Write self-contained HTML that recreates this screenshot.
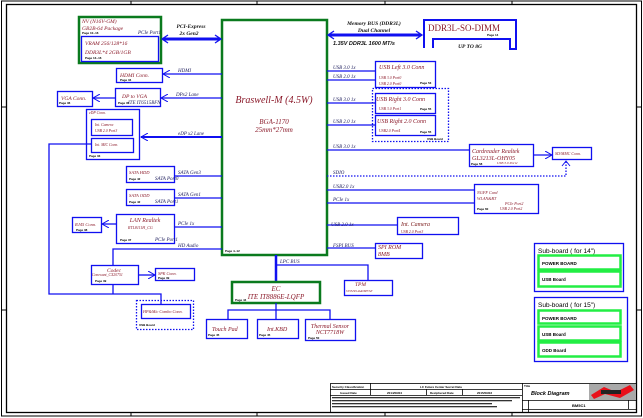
<!DOCTYPE html>
<html><head><meta charset="utf-8"><style>
html,body{margin:0;padding:0;background:#fff;width:643px;height:418px;overflow:hidden}
svg{display:block}
.b{fill:none;stroke:#1010f0;stroke-width:1.3}
.g{fill:none;stroke:#0a7a1e;stroke-width:2.5}
.lg{fill:none;stroke:#22ee44;stroke-width:2.5}
.l{stroke:#1010f0;stroke-width:1.3;fill:none}
.d{stroke:#1010f0;stroke-width:1.3;fill:none;stroke-dasharray:1.5 1.5}
.t{font-family:"Liberation Serif",serif;font-style:italic;fill:#8b1a2a}
.s{font-family:"Liberation Serif",serif;font-style:italic;fill:#1a1a5a;font-size:5px}
.p{font-family:"Liberation Sans",sans-serif;font-size:3px;fill:#000;font-weight:bold}
.k{font-family:"Liberation Sans",sans-serif;fill:#000;font-weight:bold}
</style></head><body>
<svg width="643" height="418" viewBox="0 0 643 418" xmlns="http://www.w3.org/2000/svg">
<defs>
<marker id="a" markerWidth="8" markerHeight="8" refX="7" refY="4" orient="auto" markerUnits="userSpaceOnUse"><path d="M0,0 L7,4 L0,8" fill="none" stroke="#1010f0" stroke-width="1"/></marker>
</defs>
<rect x="1.5" y="1" width="640" height="415" fill="none" stroke="#000" stroke-width="1"/>
<rect x="6.5" y="4.5" width="630" height="408" fill="none" stroke="#000" stroke-width="1.3"/>
<line x1="131" y1="1" x2="131" y2="4" stroke="#000"/><line x1="257" y1="1" x2="257" y2="4" stroke="#000"/><line x1="385" y1="1" x2="385" y2="4" stroke="#000"/><line x1="512" y1="1" x2="512" y2="4" stroke="#000"/>
<line x1="131" y1="412" x2="131" y2="416" stroke="#000"/><line x1="257" y1="412" x2="257" y2="416" stroke="#000"/><line x1="385" y1="412" x2="385" y2="416" stroke="#000"/><line x1="512" y1="412" x2="512" y2="416" stroke="#000"/>
<line x1="1" y1="107" x2="6" y2="107" stroke="#000"/><line x1="1" y1="310" x2="6" y2="310" stroke="#000"/>
<line x1="637" y1="107" x2="642" y2="107" stroke="#000"/><line x1="637" y1="310" x2="642" y2="310" stroke="#000"/>

<rect class="g" x="222" y="20" width="105" height="235"/>
<text class="t" x="274" y="103" font-size="10" text-anchor="middle">Braswell-M (4.5W)</text>
<text class="t" x="274" y="124" font-size="7" text-anchor="middle">BGA-1170</text>
<text class="t" x="274" y="132" font-size="7" text-anchor="middle">25mm*27mm</text>
<text class="p" x="225" y="252">Page 4~12</text>

<rect class="g" x="79" y="17" width="82" height="46"/>
<text class="t" x="82" y="23" font-size="5.5">NV (N16V-GM)</text>
<text class="t" x="82" y="30" font-size="5.5">GB2B-64 Package</text>
<text class="p" x="82" y="34">Page 10~16</text><text class="s" x="138" y="34" font-size="3.2">PCIe Port1</text>
<rect class="b" x="81.5" y="36.5" width="77" height="25"/>
<text class="t" x="85" y="45" font-size="5.5">VRAM 256/128*16</text>
<text class="t" x="85" y="54" font-size="5.5">DDR3L*4  2GB/1GB</text>
<text class="p" x="85" y="59">Page 13~16</text>
<text class="t" x="191" y="28" font-size="5.5" text-anchor="middle" style="fill:#111;font-weight:bold">PCI-Express</text>
<text class="t" x="189" y="35" font-size="5.5" text-anchor="middle" style="fill:#111;font-weight:bold">2x Gen2</text>
<line x1="163" y1="39" x2="220" y2="39" stroke="#1010f0" stroke-width="3"/>
<path d="M168,35 L162,39 L168,43 M215,35 L221,39 L215,43" fill="none" stroke="#1010f0" stroke-width="1.3"/>

<rect class="b" x="116.5" y="68.5" width="46" height="14"/>
<text class="t" x="120" y="77" font-size="5.5">HDMI Conn.</text><text class="p" x="120" y="81">Page 34</text>
<line class="l" x1="222" y1="74" x2="163" y2="74" marker-end="url(#a)"/>
<text class="s" x="178" y="72">HDMI</text>
<rect class="b" x="115.5" y="88.5" width="45" height="18"/>
<text class="t" x="122" y="98" font-size="5.5">DP to VGA</text><text class="p" x="118" y="104">Page 35</text><text class="s" x="128" y="104" font-size="3.2">ITE IT6515BFN</text>
<line class="l" x1="222" y1="98" x2="161" y2="98" marker-end="url(#a)"/>
<text class="s" x="176" y="96">DPx2 Lane</text>
<rect class="b" x="57.5" y="91.5" width="35" height="15"/>
<text class="t" x="61" y="100" font-size="5.5">VGA Conn.</text><text class="p" x="59" y="104">Page 36</text>
<line class="l" x1="115" y1="98" x2="93" y2="98" marker-end="url(#a)"/>
<rect class="b" x="86.5" y="109.5" width="53" height="50"/>
<text class="t" x="89" y="114" font-size="3.8">eDP Conn.</text>
<rect class="b" x="91.5" y="119.5" width="41" height="16"/>
<text class="t" x="95" y="126" font-size="3.8">Int. Camera</text><text class="t" x="95" y="132" font-size="3.8">USB 2.0 Port3</text>
<rect class="b" x="91.5" y="138.5" width="42" height="14"/>
<text class="t" x="95" y="146" font-size="3.8">Int. MIC Conn.</text>
<text class="p" x="89" y="157">Page 33</text>
<line x1="222" y1="137" x2="141" y2="137" stroke="#1010f0" stroke-width="2" marker-end="url(#a)"/>
<text class="s" x="178" y="135">eDP x2 Lane</text>
<polyline class="l" points="91,144 49,144 49,294 161,294 161,304"/>
<rect class="b" x="126.5" y="166.5" width="48" height="16"/>
<text class="t" x="129" y="174" font-size="4.5">SATA HDD</text><text class="p" x="129" y="180">Page 42</text><text class="s" x="155" y="180" font-size="3">SATA Port0</text>
<line class="l" x1="175" y1="176" x2="222" y2="176"/><text class="s" x="178" y="174">SATA Gen3</text>
<rect class="b" x="126.5" y="189.5" width="48" height="16"/>
<text class="t" x="129" y="197" font-size="4.5">SATA ODD</text><text class="p" x="129" y="203">Page 42</text><text class="s" x="155" y="203" font-size="3">SATA Port1</text>
<line class="l" x1="175" y1="198" x2="222" y2="198"/><text class="s" x="178" y="196">SATA Gen1</text>
<rect class="b" x="116.5" y="214.5" width="58" height="29"/>
<text class="t" x="145" y="222" font-size="6" text-anchor="middle">LAN Realtek</text>
<text class="t" x="128" y="229" font-size="4">RTL8111H_CG</text>
<text class="p" x="120" y="241">Page 37</text><text class="s" x="155" y="241" font-size="3">PCIe Port1</text>
<line class="l" x1="175" y1="227" x2="222" y2="227"/><text class="s" x="178" y="225">PCIe 1x</text>
<rect class="b" x="72.5" y="217.5" width="29" height="15"/>
<text class="t" x="75" y="226" font-size="4.5">RJ45 Conn.</text><text class="p" x="76" y="231">Page 38</text>
<line class="l" x1="116" y1="224" x2="102" y2="224" marker-end="url(#a)"/>
<polyline class="l" points="222,249 113,249 113,265"/>
<text class="s" x="178" y="247">HD Audio</text>
<rect class="b" x="91.5" y="265.5" width="47" height="19"/>
<text class="t" x="114" y="272" font-size="5.5" text-anchor="middle">Codec</text>
<text class="t" x="92" y="276" font-size="3.8">Conexant_CX20751</text><text class="p" x="95" y="282">Page 39</text>
<line class="l" x1="113" y1="285" x2="113" y2="294"/>
<rect class="b" x="155.5" y="268.5" width="39" height="12"/>
<text class="t" x="158" y="275" font-size="4.2">SPK Conn.</text><text class="p" x="158" y="279">Page 39</text>
<line class="l" x1="139" y1="275" x2="155" y2="275" marker-end="url(#a)"/>
<rect class="d" x="136.5" y="300.5" width="57" height="29"/>
<rect class="b" x="141.5" y="304.5" width="49" height="14"/>
<text class="t" x="143" y="313" font-size="4.2">HP&amp;Mic Combo Conn.</text>
<text class="p" x="139" y="326">USB Board</text>

<line x1="276" y1="255" x2="276" y2="282" stroke="#1010f0" stroke-width="2.5"/>
<polyline class="l" points="276,265 368,265 368,280"/>
<text class="s" x="280" y="263">LPC BUS</text>
<rect class="b" x="344.5" y="280.5" width="48" height="15"/>
<text class="t" x="355" y="286" font-size="5.5">TPM</text><text class="t" x="346" y="292" font-size="3">ST33ZP24AR28PVSP</text>
<rect class="g" x="232" y="282" width="88" height="21"/>
<text class="t" x="276" y="291" font-size="7" text-anchor="middle">EC</text>
<text class="t" x="276" y="299" font-size="7" text-anchor="middle">ITE IT8886E-LQFP</text>
<text class="p" x="235" y="301">Page 44</text>
<polyline class="l" points="276,303 276,310"/>
<polyline class="l" points="228,319 228,310 330,310 330,319"/>
<line class="l" x1="276" y1="310" x2="276" y2="319"/>
<rect class="b" x="206.5" y="319.5" width="41" height="19"/>
<text class="t" x="212" y="331" font-size="6">Touch Pad</text><text class="p" x="208" y="336">Page 45</text>
<rect class="b" x="257.5" y="319.5" width="41" height="19"/>
<text class="t" x="267" y="331" font-size="6">Int.KBD</text><text class="p" x="259" y="336">Page 45</text>
<rect class="b" x="305.5" y="319.5" width="50" height="21"/>
<text class="t" x="330" y="328" font-size="6" text-anchor="middle">Thermal Sensor</text>
<text class="t" x="330" y="334" font-size="6" text-anchor="middle">NCT7718W</text><text class="p" x="308" y="339">Page 50</text>

<text class="t" x="374" y="25" font-size="5.5" text-anchor="middle" style="fill:#111;font-weight:bold">Memory BUS (DDR3L)</text>
<text class="t" x="374" y="32" font-size="5.5" text-anchor="middle" style="fill:#111;font-weight:bold">Dual Channel</text>
<line x1="329" y1="35" x2="421" y2="35" stroke="#1010f0" stroke-width="3"/>
<path d="M334,31 L328,35 L334,39 M416,31 L422,35 L416,39" fill="none" stroke="#1010f0" stroke-width="1.3"/>
<text x="333" y="45" font-size="5.5" style="font-family:'Liberation Sans',sans-serif;font-style:italic;fill:#111;font-weight:bold">1.35V DDR3L  1600 MT/s</text>
<polyline points="424,48 424,20 516,20 516,49 510,49 510,39 433,39 433,48" fill="none" stroke="#1010f0" stroke-width="2"/>
<text class="t" x="428" y="31" font-size="9" style="font-style:normal">DDR3L-SO-DIMM</text>
<text class="p" x="487" y="36">Page 14</text>
<text class="t" x="470" y="48" font-size="5.5" text-anchor="middle" style="fill:#111;font-weight:bold">UP TO 8G</text>

<rect class="b" x="375.5" y="61.5" width="60" height="26"/>
<text class="t" x="379" y="69" font-size="6">USB Left 3.0 Conn</text>
<text class="t" x="379" y="79" font-size="3.8">USB 3.0 Port0</text><text class="t" x="379" y="85" font-size="3.8">USB 2.0 Port0</text><text class="p" x="420" y="84">Page 53</text>
<line class="l" x1="327" y1="71" x2="375" y2="71"/><line class="l" x1="327" y1="80" x2="375" y2="80"/>
<text class="s" x="333" y="69">USB 3.0 1x</text><text class="s" x="333" y="78">USB 2.0 1x</text>
<rect class="d" x="372.5" y="88.5" width="76" height="53"/>
<rect class="b" x="375.5" y="93.5" width="60" height="20"/>
<text class="t" x="376" y="101" font-size="6">USB Right 3.0 Conn</text>
<text class="t" x="379" y="110" font-size="3.8">USB 3.0 Port1</text><text class="p" x="420" y="110">Page 55</text>
<rect class="b" x="375.5" y="115.5" width="60" height="20"/>
<text class="t" x="377" y="123" font-size="6">USB Right 2.0 Conn</text>
<text class="t" x="379" y="132" font-size="3.8">USB2.0 Port4</text><text class="p" x="420" y="133">Page 55</text>
<text class="p" x="427" y="140">USB Board</text>
<line class="l" x1="327" y1="103" x2="375" y2="103"/><line class="l" x1="327" y1="125" x2="375" y2="125"/>
<text class="s" x="333" y="101">USB 3.0 1x</text><text class="s" x="333" y="123">USB 2.0 1x</text>
<rect class="b" x="469.5" y="144.5" width="64" height="22"/>
<text class="t" x="472" y="153" font-size="6">Cardreader  Realtek</text>
<text class="t" x="472" y="160" font-size="6">GL3213L-OHY05</text>
<text class="p" x="471" y="165">Page 58</text><text class="t" x="497" y="164" font-size="3.5">USB 3.0 Port2</text>
<line class="l" x1="327" y1="150" x2="469" y2="150"/><text class="s" x="333" y="148">USB 3.0 1x</text>
<rect class="b" x="552.5" y="147.5" width="39" height="12"/>
<text class="t" x="555" y="155" font-size="4">SD/MMC Conn.</text>
<line class="l" x1="534" y1="155" x2="552" y2="155" marker-end="url(#a)"/>
<polyline class="d" points="327,176 566,176 566,160"/>
<path d="M562,166 L566,161 L570,166" fill="none" stroke="#1010f0" stroke-width="1"/>
<text class="s" x="333" y="174">SDIO</text>
<rect class="b" x="474.5" y="184.5" width="64" height="29"/>
<text class="t" x="477" y="194" font-size="4.2">NGFF Card</text><text class="t" x="477" y="200" font-size="4.2">WLAN&amp;BT</text>
<text class="t" x="505" y="205" font-size="4">PCIe Port2</text><text class="p" x="477" y="210">Page 60</text><text class="t" x="500" y="210" font-size="3.8">USB 2.0 Port2</text>
<line class="l" x1="327" y1="190" x2="474" y2="190"/><line class="l" x1="327" y1="203" x2="474" y2="203"/>
<text class="s" x="333" y="188">USB2.0 1x</text><text class="s" x="333" y="201">PCIe 1x</text>
<rect class="b" x="397.5" y="217.5" width="61" height="17"/>
<text class="t" x="401" y="226" font-size="6" style="fill:#7a1a1a">Int. Camera</text><text class="t" x="401" y="233" font-size="3.8">USB 2.0 Port3</text>
<line class="l" x1="327" y1="225" x2="397" y2="225"/><text class="s" x="331" y="226">USB 2.0 1x</text>
<rect class="b" x="375.5" y="243.5" width="47" height="15"/>
<text class="t" x="378" y="249" font-size="6">SPI ROM</text><text class="t" x="378" y="256" font-size="6">8MB</text>
<line class="l" x1="327" y1="248" x2="375" y2="248"/><text class="s" x="333" y="247">FSPI BUS</text>

<rect class="b" x="534.5" y="243.5" width="89" height="48"/>
<text class="k" x="538" y="253" font-size="6.5" style="font-weight:normal">Sub-board ( for 14")</text>
<rect class="lg" x="538.5" y="255.5" width="82" height="14"/><text class="k" x="542" y="265" font-size="4.5">POWER BOARD</text>
<rect class="lg" x="538.5" y="271.5" width="82" height="15"/><text class="k" x="542" y="281" font-size="4.5">USB Board</text>
<rect class="b" x="534.5" y="297.5" width="93" height="64"/>
<text class="k" x="538" y="307" font-size="6.5" style="font-weight:normal">Sub-board ( for 15")</text>
<rect class="lg" x="538.5" y="310.5" width="82" height="13"/><text class="k" x="542" y="320" font-size="4.5">POWER BOARD</text>
<rect class="lg" x="538.5" y="326.5" width="82" height="14"/><text class="k" x="542" y="336" font-size="4.5">USB Board</text>
<rect class="lg" x="538.5" y="342.5" width="82" height="14"/><text class="k" x="542" y="352" font-size="4.5">ODD Board</text>

<g stroke="#000" stroke-width="0.8" fill="none">
<rect x="330.5" y="383.5" width="306" height="29"/>
<line x1="330" y1="389.5" x2="522" y2="389.5"/><line x1="330" y1="395.5" x2="522" y2="395.5"/>
<line x1="522.5" y1="383" x2="522.5" y2="412"/><line x1="370.5" y1="383" x2="370.5" y2="395"/>
<line x1="426.5" y1="389" x2="426.5" y2="395"/><line x1="462.5" y1="389" x2="462.5" y2="395"/>
<line x1="522" y1="400.5" x2="636" y2="400.5"/><line x1="522" y1="409.5" x2="636" y2="409.5"/>
<line x1="528.5" y1="400" x2="528.5" y2="412"/><line x1="628.5" y1="400" x2="628.5" y2="409"/>
</g>
<text class="k" x="332" y="388" font-size="3">Security Classification</text>
<text class="k" x="420" y="388" font-size="3">LC Future Center Secret Data</text>
<text class="k" x="340" y="394" font-size="3">Issued Date</text><text class="k" x="387" y="394" font-size="3">2014/09/04</text>
<text class="k" x="430" y="394" font-size="3">Deciphered Date</text><text class="k" x="477" y="394" font-size="3">2015/09/03</text>
<rect x="332" y="397" width="188" height="1.3" fill="#333"/><rect x="332" y="400" width="180" height="1.3" fill="#333"/><rect x="332" y="403" width="160" height="1.3" fill="#333"/><rect x="332" y="406" width="165" height="1.3" fill="#333"/>
<text class="k" x="524" y="387" font-size="3">Title</text>
<text class="k" x="531" y="395" font-size="5.5" style="font-style:italic">Block Diagram</text>
<rect x="589" y="384" width="47" height="16" fill="#a9a9a9"/>
<path d="M591,395 L604,387 L616,392 L630,385 L634,390 L620,398 L605,394 L594,399 Z" fill="#e8101a"/>
<rect x="601" y="390" width="20" height="4" fill="#222"/>
<text class="k" x="572" y="407" font-size="4">BM5C1</text>
</svg>
</body></html>
